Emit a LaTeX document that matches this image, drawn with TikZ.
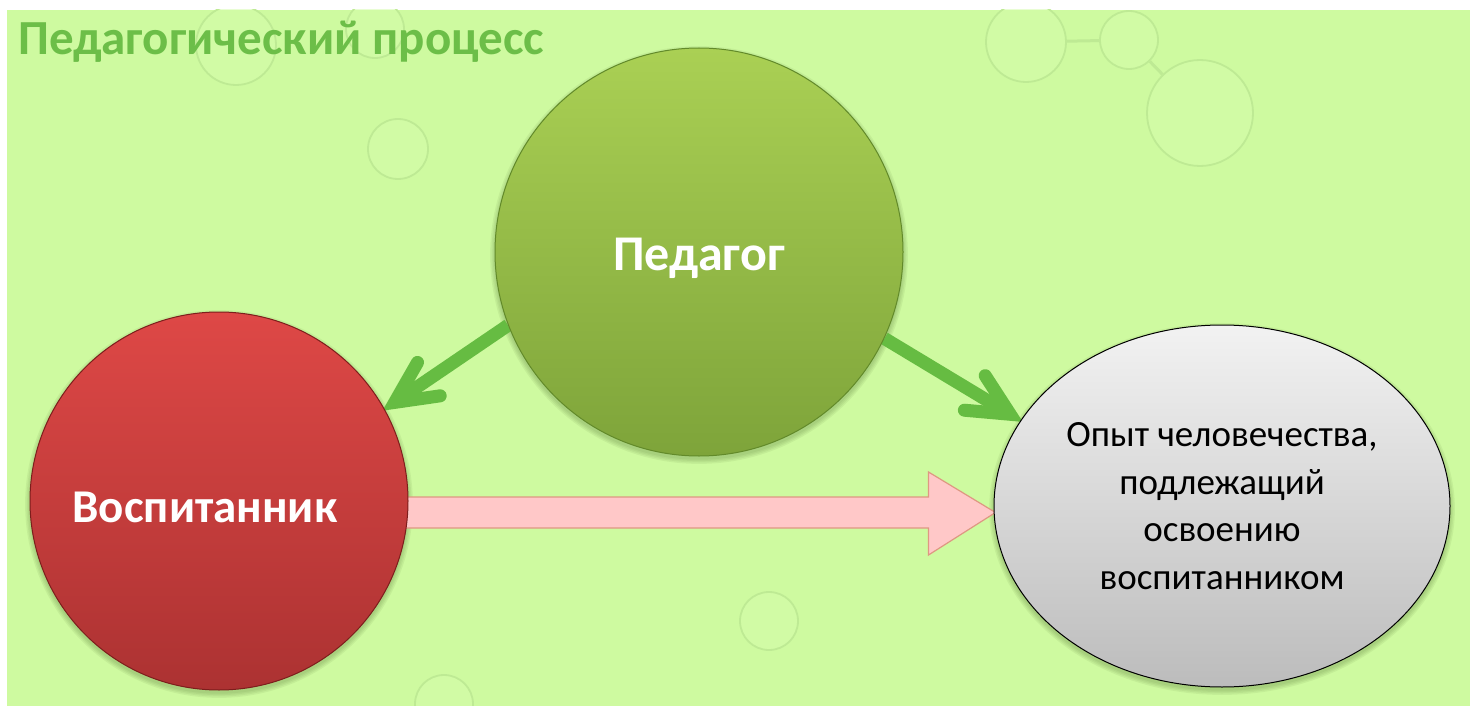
\documentclass[tikz,border=0pt]{standalone}
\usepackage{fontspec}
\setmainfont{Carlito}
\usetikzlibrary{shapes.geometric,calc}
\definecolor{bggreen}{RGB}{206,250,160}
\definecolor{decoline}{RGB}{190,234,148}
\definecolor{decofill}{RGB}{212,252,170}
\definecolor{titlegreen}{RGB}{108,190,72}
\definecolor{arrgreen}{RGB}{102,188,66}
\definecolor{pedtop}{RGB}{170,208,84}
\definecolor{pedbot}{RGB}{126,164,58}
\definecolor{pedborder}{RGB}{98,138,42}
\definecolor{redtop}{RGB}{222,72,70}
\definecolor{redbot}{RGB}{172,50,50}
\definecolor{redborder}{RGB}{125,30,28}
\definecolor{graytop}{RGB}{242,242,242}
\definecolor{graybot}{RGB}{188,188,188}
\definecolor{pinkfill}{RGB}{255,200,200}
\definecolor{pinkborder}{RGB}{222,152,130}
\definecolor{shadowcol}{RGB}{60,90,30}
\pgfdeclarelayer{bgl}
\pgfdeclarelayer{conn}
\pgfsetlayers{bgl,conn,main}
\begin{document}
\begin{tikzpicture}[x=1pt,y=-1pt,
  deco/.style={circle,draw=decoline,line width=1.8pt,fill=decofill,fill opacity=0.5,inner sep=0pt},
  decoconn/.style={draw=decoline,line width=3pt},
  titletext/.style={text=titlegreen,font=\fontsize{49}{52}\selectfont\bfseries,inner sep=0pt},
  softshadow/.style={fill=shadowcol,opacity=0.07},
  pedc/.style={circle,minimum size=408pt,inner sep=0pt,top color=pedtop,bottom color=pedbot,draw=pedborder,line width=1pt,
    text=white,font=\fontsize{50}{54}\selectfont\bfseries,text height=40pt,text depth=4pt},
  vospc/.style={circle,minimum size=378pt,inner sep=0pt,top color=redtop,bottom color=redbot,draw=redborder,line width=1pt,
    text=white,font=\fontsize{47}{50}\selectfont\bfseries,text height=44pt,text depth=2pt},
  opytc/.style={ellipse,minimum width=456pt,minimum height=362pt,inner sep=0pt,top color=graytop,bottom color=graybot,draw=black,line width=1pt,
    text=black,align=center,font=\fontsize{37}{47.5}\selectfont},
  gshaft/.style={draw=arrgreen,line width=13pt,line cap=butt},
  ghead/.style={draw=arrgreen,line width=13pt,line cap=round,line join=miter},
  pinkarr/.style={fill=pinkfill,draw=pinkborder,line width=1.2pt,line join=miter}
]
\useasboundingbox (0,0) rectangle (1470,706);
\begin{pgfonlayer}{bgl}
  \fill[white] (0,0) rectangle (1470,706);
  \fill[bggreen] (7,10) rectangle (1470,706);
  \begin{scope}
    \clip (7,10) rectangle (1470,706);
    \node[deco,minimum size=80pt] (d1) at (236,45) {};
    \node[deco,minimum size=58pt] (d2) at (375,29) {};
    \node[deco,minimum size=60pt] (d3) at (398,149) {};
    \node[deco,minimum size=80pt] (d4) at (1026,42) {};
    \node[deco,minimum size=58pt] (d5) at (1129,40) {};
    \node[deco,minimum size=106pt] (d6) at (1200,113) {};
    \node[deco,minimum size=58pt] (d7) at (769,621) {};
    \node[deco,minimum size=58pt] (d8) at (444,704) {};
    \draw[decoconn] (d4) -- (d5);
    \draw[decoconn] (d5) -- (d6);
  \end{scope}
\end{pgfonlayer}

\node[titletext,anchor=base west] (title) at (18,55) {Педагогический процесс};

\node[pedc] (ped) at (699,252) {Педагог};
\node[vospc] (vosp) at (219,501) {\hspace*{0pt}Воспитанник\hspace*{28pt}};
\node[opytc] (opyt) at (1222,506) {Опыт человечества,\\подлежащий\\освоению\\воспитанником};

\begin{pgfonlayer}{conn}
  % soft shadows under the three shapes
  \foreach \d in {1,3,5,7} {
    \fill[softshadow] ($(ped.center)+(0,3)$) circle ({204+\d*0.7});
    \fill[softshadow] ($(vosp.center)+(0,3)$) circle ({189+\d*0.7});
    \fill[softshadow] ($(opyt.center)+(0,3)$) ellipse ({228+\d*0.7} and {181+\d*0.7});
  }
  % pink block arrow from pupil to experience
  \path[pinkarr] let \p1=(vosp.east), \p2=(opyt.west) in
    (\x1-12pt,\y1+4pt) -- (\x2-65pt,\y1+4pt) -- (\x2-65pt,\y1+29pt)
    -- (\x2+2pt,\y1-11.5pt) -- (\x2-65pt,\y1-54pt) -- (\x2-65pt,\y1-27pt)
    -- (\x1-12pt,\y1-27pt);
  % green arrow teacher -> pupil
  \coordinate (s1) at (ped.201);
  \coordinate (t1) at (vosp.29.5);
  \coordinate (h1) at ($(t1)!12pt!(s1)$);
  \draw[gshaft] (s1) -- (h1);
  \draw[ghead] ($(h1)!46pt!26:(s1)$) -- (h1) -- ($(h1)!46pt!-26:(s1)$);
  % green arrow teacher -> experience
  \coordinate (s2) at (ped.335.6);
  \coordinate (t2) at (opyt.157.2);
  \coordinate (h2) at ($(t2)!12pt!(s2)$);
  \draw[gshaft] (s2) -- (h2);
  \draw[ghead] ($(h2)!46pt!26:(s2)$) -- (h2) -- ($(h2)!46pt!-26:(s2)$);
\end{pgfonlayer}
\end{tikzpicture}
\end{document}
